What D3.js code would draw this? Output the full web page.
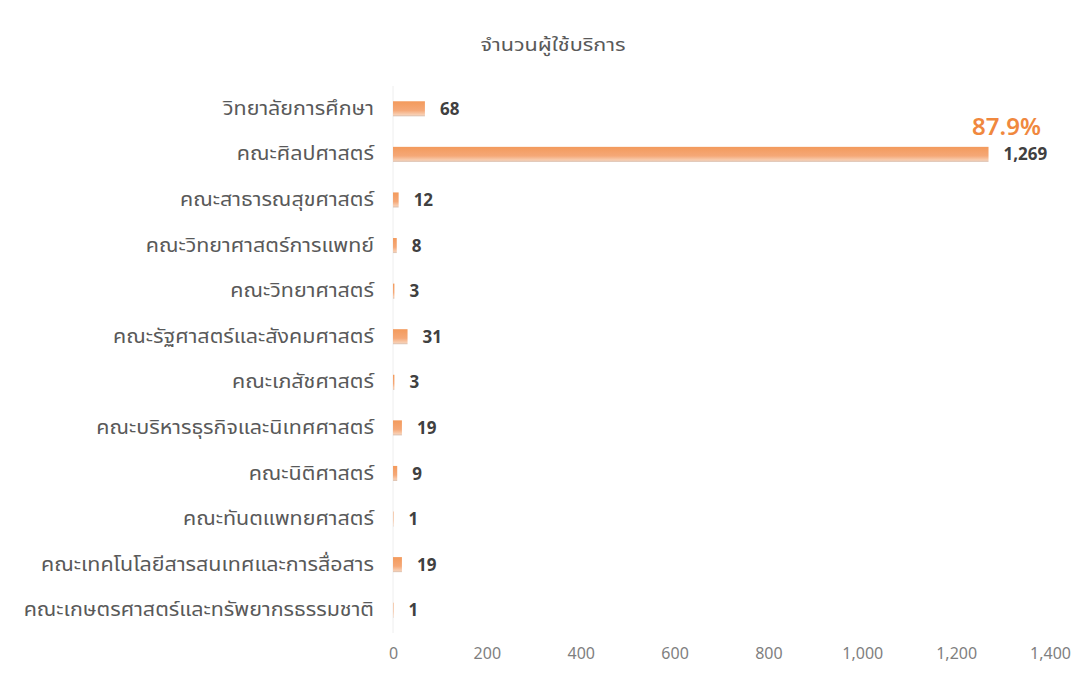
<!DOCTYPE html>
<html lang="th">
<head>
<meta charset="UTF-8">
<title>จำนวนผู้ใช้บริการ</title>
<style>
  body { margin: 0; background: #fff; }
  text { font-family: "Noto Sans Thai", "Noto Sans", Tahoma, sans-serif; }
</style>
<script src="https://cdn.jsdelivr.net/npm/d3@7"></script>
</head>
<body>
<script>
// data
const faculties = [
  "วิทยาลัยการศึกษา",
  "คณะศิลปศาสตร์",
  "คณะสาธารณสุขศาสตร์",
  "คณะวิทยาศาสตร์การแพทย์",
  "คณะวิทยาศาสตร์",
  "คณะรัฐศาสตร์และสังคมศาสตร์",
  "คณะเภสัชศาสตร์",
  "คณะบริหารธุรกิจและนิเทศศาสตร์",
  "คณะนิติศาสตร์",
  "คณะทันตแพทยศาสตร์",
  "คณะเทคโนโลยีสารสนเทศและการสื่อสาร",
  "คณะเกษตรศาสตร์และทรัพยากรธรรมชาติ"
]
const users = [68, 1269, 12, 8, 3, 31, 3, 19, 9, 1, 19, 1]
const xTicks = [0, 200, 400, 600, 800, 1000, 1200, 1400]
const shareLabel = "87.9%"
const shareIndex = 1

const width = 1087
const height = 676

const svg = d3.select("body").append("svg")
  .attr("width", width)
  .attr("height", height)

// bar gradient
const grad = svg.append("defs").append("linearGradient")
  .attr("id", "barGrad")
  .attr("x1", 0).attr("y1", 0).attr("x2", 0).attr("y2", 1)
grad.append("stop").attr("offset", "0%").attr("stop-color", "#f39a5c")
grad.append("stop").attr("offset", "60%").attr("stop-color", "#f5a877")
grad.append("stop").attr("offset", "88%").attr("stop-color", "#f8cdb0")
grad.append("stop").attr("offset", "100%").attr("stop-color", "#d9c2b4")

const x = d3.scaleLinear()
  .domain([0, 1400])
  .range([393, 1050])

const y = d3.scaleBand()
  .domain(faculties)
  .range([86, 633])
  .paddingInner(0.67)
  .paddingOuter(0.335)

// title
svg.append("text")
  .attr("transform", "translate(553,51) scale(1.2,1)")
  .attr("text-anchor", "middle")
  .style("font-size", "18px")
  .style("fill", "#595959")
  .text("จำนวนผู้ใช้บริการ")

// faint axis line at zero
svg.append("line")
  .attr("x1", x(0)).attr("x2", x(0))
  .attr("y1", 86).attr("y2", 633)
  .style("stroke", "#eeeeee")

// bottom axis labels
const xAxis = d3.axisBottom(x)
  .tickValues(xTicks)
  .tickFormat(d3.format(","))
  .tickSize(0)
  .tickPadding(0)

const gx = svg.append("g")
  .attr("transform", "translate(0,648)")
  .call(xAxis)
gx.select(".domain").remove()
gx.selectAll("text")
  .style("font-size", "16px")
  .style("fill", "#7f7f7f")
  .style("font-family", "\"Noto Sans\", sans-serif")

// category labels (a little wider, like the Tahoma face in the original)
const yAxis = d3.axisLeft(y).tickSize(0).tickPadding(0)
const gy = svg.append("g")
  .attr("transform", "translate(374,0)")
  .call(yAxis)
gy.select(".domain").remove()
gy.selectAll("text")
  .attr("transform", "scale(1.13,1)")
  .style("font-size", "19px")
  .style("fill", "#595959")

// bars
svg.selectAll(".bar")
  .data(users)
  .join("rect")
  .attr("class", "bar")
  .attr("x", x(0))
  .attr("y", (d, i) => y(faculties[i]))
  .attr("width", d => x(d) - x(0))
  .attr("height", y.bandwidth())
  .style("fill", "url(#barGrad)")

// value labels
svg.selectAll(".val")
  .data(users)
  .join("text")
  .attr("class", "val")
  .attr("x", d => x(d) + 15)
  .attr("y", (d, i) => y(faculties[i]) + y.bandwidth() / 2)
  .attr("dy", "0.36em")
  .style("font-size", "17px")
  .style("font-weight", "bold")
  .style("fill", "#404040")
  .style("font-family", "\"Noto Sans\", sans-serif")
  .text(d => d3.format(",")(d))

// share annotation
svg.append("text")
  .attr("x", x(users[shareIndex]) + 18)
  .attr("y", y(faculties[shareIndex]) - 12)
  .attr("text-anchor", "middle")
  .style("font-size", "24px")
  .style("font-weight", "600")
  .style("fill", "#f0883e")
  .style("font-family", "\"Noto Sans\", sans-serif")
  .text(shareLabel)
</script>
</body>
</html>
